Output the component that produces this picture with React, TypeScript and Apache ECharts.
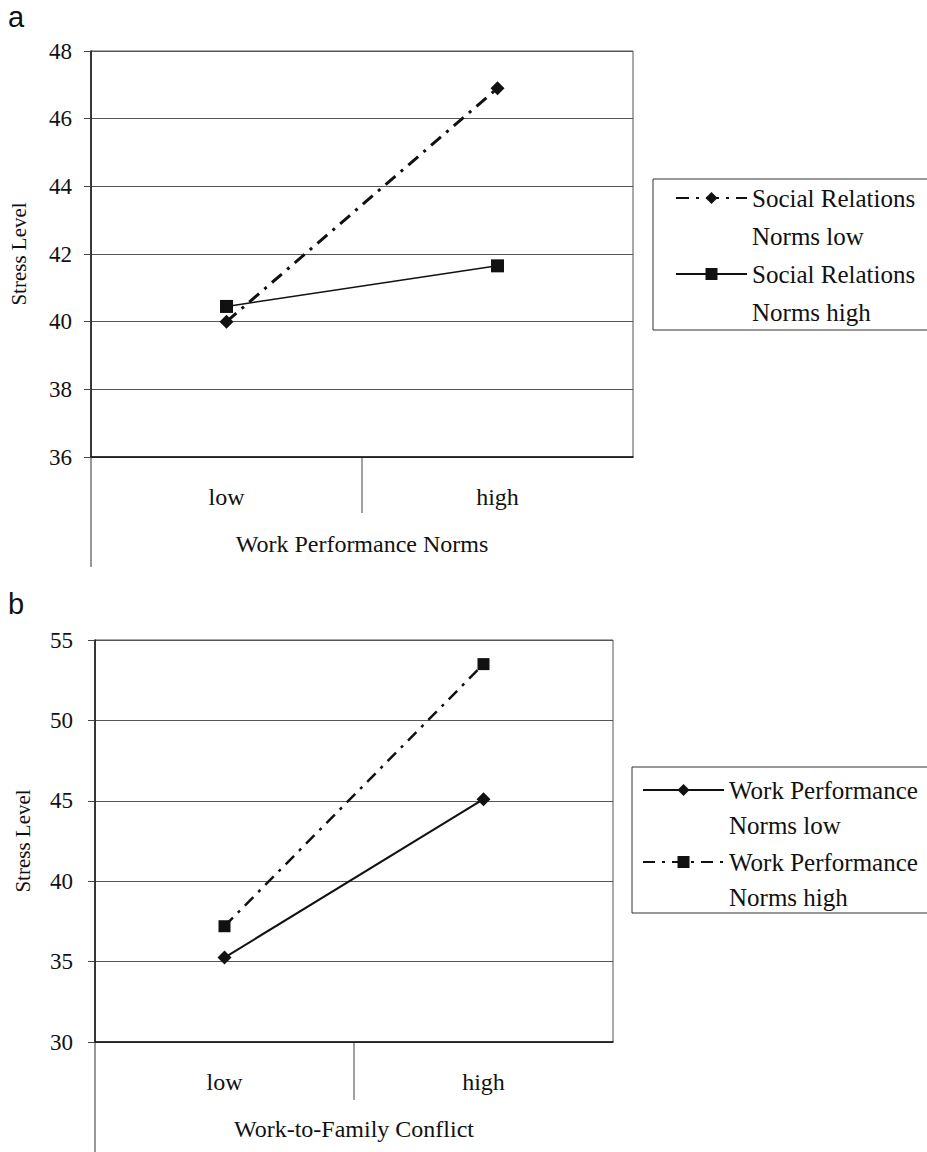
import React, { useEffect, useRef } from 'react';
import * as echarts from 'echarts';

// ---- data ----
const categories = ['low', 'high'];
const socialNormsLow = [40.0, 46.9];
const socialNormsHigh = [40.45, 41.65];
const workNormsLow = [35.25, 45.1];
const workNormsHigh = [37.2, 53.5];
const yRangeA = [36, 48, 2];
const yRangeB = [30, 55, 5];
const legendLines: Record<string, string[]> = {
  'Social Relations Norms low': ['Social Relations', 'Norms low'],
  'Social Relations Norms high': ['Social Relations', 'Norms high'],
  'Work Performance Norms low': ['Work Performance', 'Norms low'],
  'Work Performance Norms high': ['Work Performance', 'Norms high'],
};

const SERIF = 'Liberation Serif';
const SANS = 'Liberation Sans';
const INK = '#111';

export default function App() {
  const ref = useRef<HTMLDivElement>(null);
  useEffect(() => {
    if (!ref.current) return;
    const chart = echarts.init(ref.current, undefined, { renderer: 'svg' });

    const gA = { left: 91, top: 51, width: 542, height: 406 };
    const gB = { left: 95, top: 640, width: 518, height: 402 };

    const xAxisBase = (gridIndex: number, name: string) => ({
      type: 'category',
      gridIndex,
      data: categories,
      boundaryGap: true,
      name,
      nameLocation: 'middle',
      nameGap: 75,
      nameTextStyle: { fontFamily: SERIF, fontSize: 24, color: INK },
      axisLine: { show: true, lineStyle: { color: INK, width: 1.5 } },
      axisTick: { show: false },
      axisLabel: { fontFamily: SERIF, fontSize: 24, color: INK, margin: 28 },
      splitLine: { show: false },
    });
    const yAxisBase = (gridIndex: number, r: number[], margin: number) => ({
      type: 'value',
      gridIndex,
      min: r[0],
      max: r[1],
      interval: r[2],
      name: 'Stress Level',
      nameLocation: 'middle',
      nameGap: 62,
      nameTextStyle: { fontFamily: SERIF, fontSize: 21, color: INK },
      axisLine: { show: true, lineStyle: { color: INK, width: 1.5 } },
      axisTick: { show: true, length: 7, lineStyle: { color: '#444' } },
      axisLabel: { fontFamily: SERIF, fontSize: 23, color: INK, margin },
      splitLine: { show: true, lineStyle: { color: '#555', width: 1 } },
    });

    const legendBase = (name: string, left: number, top: number, lh: number, w: number) => ({
      data: [name],
      left,
      top,
      padding: 0,
      orient: 'vertical',
      selectedMode: false,
      itemWidth: w,
      itemHeight: 15,
      itemGap: 0,
      formatter: (n: string) => '\n' + legendLines[n].join('\n'),
      textStyle: { fontFamily: SERIF, fontSize: 25, color: INK, lineHeight: lh },
    });

    chart.setOption({
      animation: false,
      backgroundColor: '#fff',
      grid: [
        { ...gA, show: true, borderColor: '#555', borderWidth: 1, containLabel: false },
        { ...gB, show: true, borderColor: '#555', borderWidth: 1, containLabel: false },
      ],
      xAxis: [xAxisBase(0, 'Work Performance Norms'), xAxisBase(1, 'Work-to-Family Conflict')],
      yAxis: [yAxisBase(0, yRangeA, 19), yAxisBase(1, yRangeB, 22)],
      legend: [
        legendBase('Social Relations Norms low', 675, 198 - 57, 38, 71),
        legendBase('Social Relations Norms high', 675, 274 - 57, 38, 71),
        legendBase('Work Performance Norms low', 642, 790 - 52.5, 35, 81),
        legendBase('Work Performance Norms high', 642, 862 - 52.5, 35, 81),
      ],
      series: [
        {
          name: 'Social Relations Norms low',
          type: 'line',
          xAxisIndex: 0,
          yAxisIndex: 0,
          data: socialNormsLow,
          symbol: 'diamond',
          symbolSize: 14,
          lineStyle: { color: INK, width: 3, type: [13, 7, 3, 7] },
          itemStyle: { color: INK },
        },
        {
          name: 'Social Relations Norms high',
          type: 'line',
          xAxisIndex: 0,
          yAxisIndex: 0,
          data: socialNormsHigh,
          symbol: 'rect',
          symbolSize: 13,
          lineStyle: { color: INK, width: 1.5, type: 'solid' },
          itemStyle: { color: INK },
        },
        {
          name: 'Work Performance Norms low',
          type: 'line',
          xAxisIndex: 1,
          yAxisIndex: 1,
          data: workNormsLow,
          symbol: 'diamond',
          symbolSize: 14,
          lineStyle: { color: INK, width: 2, type: 'solid' },
          itemStyle: { color: INK },
        },
        {
          name: 'Work Performance Norms high',
          type: 'line',
          xAxisIndex: 1,
          yAxisIndex: 1,
          data: workNormsHigh,
          symbol: 'rect',
          symbolSize: 12,
          lineStyle: { color: INK, width: 2.5, type: [12, 7, 3, 7] },
          itemStyle: { color: INK },
        },
      ],
      graphic: [
        { type: 'text', left: 8, top: 2, style: { text: 'a', fontFamily: SANS, fontSize: 29, fill: INK } },
        { type: 'text', left: 8, top: 589, style: { text: 'b', fontFamily: SANS, fontSize: 29, fill: INK } },
        // legend boxes
        { type: 'rect', shape: { x: 653, y: 179, width: 300, height: 151 }, style: { fill: 'none', stroke: '#333', lineWidth: 1 } },
        { type: 'rect', shape: { x: 632, y: 767, width: 320, height: 146 }, style: { fill: 'none', stroke: '#333', lineWidth: 1 } },
        // chart-area left border extension
        { type: 'line', shape: { x1: gA.left, y1: gA.top + gA.height, x2: gA.left, y2: 567 }, style: { stroke: '#333', lineWidth: 1 } },
        { type: 'line', shape: { x1: gB.left, y1: gB.top + gB.height, x2: gB.left, y2: 1152 }, style: { stroke: '#333', lineWidth: 1 } },
        // category divider ticks
        { type: 'line', shape: { x1: gA.left + gA.width / 2, y1: gA.top + gA.height, x2: gA.left + gA.width / 2, y2: 513 }, style: { stroke: '#444', lineWidth: 1 } },
        { type: 'line', shape: { x1: gB.left + gB.width / 2, y1: gB.top + gB.height, x2: gB.left + gB.width / 2, y2: 1100 }, style: { stroke: '#444', lineWidth: 1 } },
      ],
    });
    return () => chart.dispose();
  }, []);
  return <div ref={ref} style={{ position: 'absolute', left: 0, top: 0, width: 927, height: 1152 }} />;
}
